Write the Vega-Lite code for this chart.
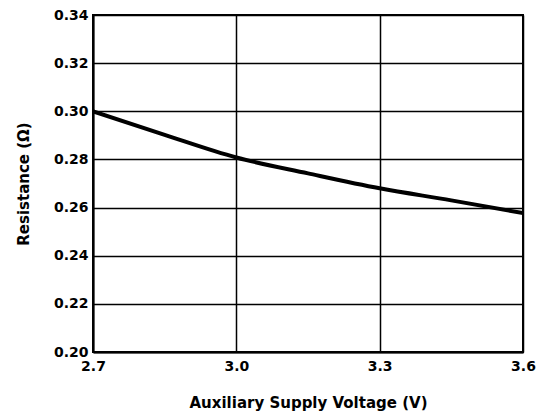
{
  "$schema": "https://vega.github.io/schema/vega-lite/v6.json",
  "width": 430,
  "height": 337,
  "autosize": {"type": "none"},
  "padding": {"left": 93, "top": 15, "right": 22, "bottom": 66},
  "background": "white",
  "config": {
    "view": {"stroke": "black", "strokeWidth": 2},
    "axis": {
      "labelFont": "DejaVu Sans",
      "labelFontWeight": "bold",
      "labelFontSize": 14,
      "labelColor": "black",
      "titleFont": "DejaVu Sans",
      "titleFontWeight": "bold",
      "titleFontSize": 15,
      "titleColor": "black",
      "domainColor": "black",
      "domainWidth": 2,
      "gridColor": "black",
      "gridWidth": 1.5,
      "gridOpacity": 1,
      "ticks": false
    }
  },
  "data": {
    "values": [
      {"v": 2.7, "r": 0.3000},
      {"v": 2.85, "r": 0.2902},
      {"v": 3.0, "r": 0.2808},
      {"v": 3.15, "r": 0.2742},
      {"v": 3.3, "r": 0.2680},
      {"v": 3.45, "r": 0.2630},
      {"v": 3.6, "r": 0.2577}
    ]
  },
  "mark": {"type": "line", "color": "black", "strokeWidth": 4, "interpolate": "monotone", "clip": true},
  "encoding": {
    "x": {
      "field": "v",
      "type": "quantitative",
      "scale": {"domain": [2.7, 3.6], "nice": false, "zero": false},
      "axis": {
        "title": "Auxiliary Supply Voltage (V)",
        "values": [2.7, 3.0, 3.3, 3.6],
        "format": ".1f",
        "labelPadding": 7,
        "titlePadding": 22,
        "labelFlush": false
      }
    },
    "y": {
      "field": "r",
      "type": "quantitative",
      "scale": {"domain": [0.2, 0.34], "nice": false, "zero": false},
      "axis": {
        "title": "Resistance (Ω)",
        "values": [0.2, 0.22, 0.24, 0.26, 0.28, 0.3, 0.32, 0.34],
        "format": ".2f",
        "labelPadding": 5,
        "titlePadding": 22,
        "labelFlush": false
      }
    }
  }
}
